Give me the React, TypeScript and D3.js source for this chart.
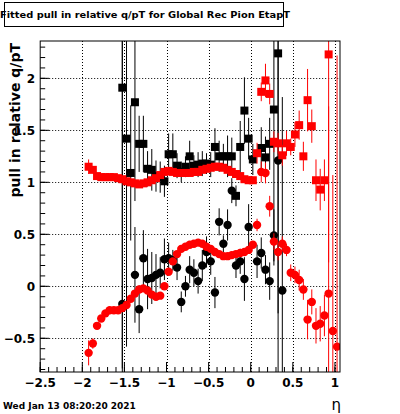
import React from 'react';
import * as d3 from 'd3';

const etaBins = [-1.925,-1.875,-1.825,-1.775,-1.725,-1.675,-1.625,-1.575,-1.525,-1.475,
  -1.425,-1.375,-1.325,-1.275,-1.225,-1.175,-1.125,-1.075,-1.025,-0.975,
  -0.925,-0.875,-0.825,-0.775,-0.725,-0.675,-0.625,-0.575,-0.525,-0.475,
  -0.425,-0.375,-0.325,-0.275,-0.225,-0.175,-0.125,-0.075,-0.025,0.025,
  0.075,0.125,0.175,0.225,0.275,0.325,0.375,0.425,0.475,0.525,
  0.575,0.625,0.675,0.725,0.775,0.825,0.875,0.925,0.975,1.025];

const redSquareVals = [1.15,1.12,1.06,1.05,1.05,1.05,1.05,1.04,1.03,1.01,
  1.00,0.99,0.98,0.99,1.00,1.02,1.04,1.07,1.10,1.11,
  1.10,1.09,1.09,1.09,1.09,1.10,1.10,1.12,1.13,1.14,
  1.15,1.15,1.14,1.12,1.10,1.08,1.06,1.03,1.02,1.02,
  1.28,1.87,1.98,1.85,1.39,1.375,1.26,1.375,1.34,1.46,
  1.55,1.25,1.79,1.54,1.02,0.93,1.02,2.23,null,null];
const redSquareErrs = [0.07,0.03,0.02,0.015,0.015,0.015,0.015,0.015,0.015,0.015,
  0.015,0.015,0.015,0.015,0.015,0.015,0.015,0.015,0.015,0.015,
  0.015,0.015,0.015,0.015,0.015,0.015,0.015,0.015,0.015,0.015,
  0.015,0.015,0.015,0.015,0.015,0.015,0.015,0.015,0.02,0.02,
  0.1,0.09,0.16,0.1,0.1,0.1,0.1,0.12,0.08,0.12,
  0.14,0.14,0.3,0.16,0.2,0.2,0.2,2.0,0,0];

const redCircleVals = [-0.64,-0.55,-0.38,-0.31,-0.26,-0.23,-0.23,-0.23,-0.21,-0.18,
  -0.12,-0.07,-0.03,-0.02,-0.04,-0.08,-0.10,-0.09,0.00,0.14,
  0.24,0.31,0.36,0.38,0.40,0.41,0.42,0.41,0.38,0.36,
  0.33,0.31,0.29,0.29,0.30,0.31,0.32,0.33,0.35,0.40,
  0.59,1.10,1.09,0.77,0.43,0.33,0.41,0.35,0.13,0.11,
  0.06,-0.03,-0.32,-0.15,-0.38,-0.36,-0.28,-0.07,-0.43,-0.58];
const redCircleErrs = [0.12,0.05,0.02,0.02,0.02,0.02,0.02,0.02,0.02,0.02,
  0.02,0.02,0.02,0.02,0.02,0.02,0.02,0.02,0.02,0.02,
  0.02,0.02,0.02,0.02,0.02,0.02,0.02,0.02,0.02,0.02,
  0.02,0.02,0.02,0.02,0.02,0.02,0.02,0.02,0.02,0.03,
  0.06,0.1,0.1,0.1,0.08,0.08,0.07,0.06,0.08,0.08,
  0.1,0.1,0.19,0.12,0.17,0.17,0.2,1.8,1.5,2.8];

const blackSquareVals = [null,null,null,null,null,null,null,null,1.91,1.42,
  1.09,1.77,1.37,1.37,1.13,1.12,1.06,1.05,1.01,1.27,
  1.27,1.16,1.10,1.15,1.25,1.16,1.17,1.18,1.18,1.17,
  1.34,1.25,1.25,1.25,1.25,0.87,1.34,1.69,1.42,1.22,
  null,1.33,1.24,1.37,1.70,2.24,null,null,null,null,
  null,null,null,null,null,null,null,null,null,null];
const blackSquareErrs = [0,0,0,0,0,0,0,0,2.7,2.0,
  0.65,0.95,0.27,0.27,0.17,0.2,0.15,0.15,0.15,0.2,
  0.2,0.12,0.1,0.1,0.15,0.1,0.12,0.12,0.1,0.12,
  0.18,0.15,0.12,0.2,0.18,0.1,0.25,0.32,0.2,0.15,
  0,0.2,0.2,0.25,1.5,2.5,0,0,0,0,
  0,0,0,0,0,0,0,0,0,0];

const blackCircleVals = [null,null,null,null,null,null,null,null,-0.17,null,
  null,0.11,-0.22,0.27,0.07,0.08,0.11,0.13,0.26,0.27,
  0.25,0.18,-0.15,0.00,0.16,0.13,0.05,0.20,0.33,0.24,
  -0.06,0.62,0.41,0.59,0.92,0.20,0.24,0.07,0.57,null,
  0.24,0.32,0.16,0.05,0.49,1.21,-0.04,null,null,null,
  null,null,null,null,null,null,null,null,null,null];
const blackCircleErrs = [0,0,0,0,0,0,0,0,2.7,0,
  0,0.46,0.23,0.27,0.29,0.25,0.2,0.15,0.2,0.15,
  0.1,0.12,0.1,0.1,0.13,0.13,0.12,0.15,0.15,0.13,
  0.15,0.13,0.08,0.15,0.12,0.12,0.12,0.21,0.22,0,
  0.16,0.15,0.14,0.18,0.25,2.5,1.86,0,0,0,
  0,0,0,0,0,0,0,0,0,0];

const xTickLabels = [-2.5, -2, -1.5, -1, -0.5, 0, 0.5, 1];
const yTickLabels = [-0.5, 0, 0.5, 1, 1.5, 2];

const titleText = 'Fitted pull in relative q/pT for Global Rec Pion EtapT';
const yTitle = 'pull in relative q/pT';
const xTitle = 'η';
const dateText = 'Wed Jan 13 08:20:20 2021';

const FONT = "'DejaVu Sans', sans-serif";
const L = 40.2, R = 340, T = 41, B = 372;

const x = d3.scaleLinear().domain([-2.5, 1.06]).range([L, R]);
const y = d3.scaleLinear().domain([-0.824, 2.359]).range([B, T]);

const fmt = (v: number) => (v < 0 ? '\u2212' + String(Math.abs(v)) : String(v));

type Series = { vals: (number | null)[]; errs: number[]; color: string; shape: 'sq' | 'ci' };

const series: Series[] = [
  { vals: blackSquareVals, errs: blackSquareErrs, color: '#000', shape: 'sq' },
  { vals: blackCircleVals, errs: blackCircleErrs, color: '#000', shape: 'ci' },
  { vals: redSquareVals, errs: redSquareErrs, color: '#ff0000', shape: 'sq' },
  { vals: redCircleVals, errs: redCircleErrs, color: '#ff0000', shape: 'ci' },
];

export default function App() {
  const minorX = d3.range(-2.5, 1.06, 0.1);
  const minorY = d3.range(-0.8, 2.36, 0.1);
  return (
    <svg width={400} height={414} style={{ position: 'absolute', left: 0, top: 0, background: '#fff' }}
      fontFamily={FONT}>
      <rect x={0} y={0} width={400} height={414} fill="#fff" />
      <defs>
        <clipPath id="frameClip"><rect x={L} y={T} width={R - L} height={B - T} /></clipPath>
      </defs>
      {/* grid */}
      <g stroke="#000" strokeWidth={1} strokeDasharray="1,2">
        {xTickLabels.filter(v => v > -2.5).map(v => (
          <line key={'gx' + v} x1={Math.round(x(v)) + 0.5} x2={Math.round(x(v)) + 0.5} y1={T} y2={B} />
        ))}
        {yTickLabels.map(v => (
          <line key={'gy' + v} x1={L} x2={R} y1={Math.round(y(v)) + 0.5} y2={Math.round(y(v)) + 0.5} />
        ))}
      </g>
      {/* data */}
      <g clipPath="url(#frameClip)">
        {series.map((s, si) => (
          <g key={si} fill={s.color} stroke={s.color}>
            {s.vals.map((v, i) => {
              if (v === null) return null;
              const cx = x(etaBins[i]);
              const cy = y(v);
              const e = s.errs[i];
              return (
                <g key={i}>
                  {e > 0 && <line x1={cx} x2={cx} y1={y(v + e)} y2={y(v - e)} strokeWidth={1} />}
                  {s.shape === 'sq'
                    ? <rect x={cx - 4} y={cy - 4} width={8} height={8} stroke="none" />
                    : <circle cx={cx} cy={cy} r={4.2} stroke="none" />}
                </g>
              );
            })}
          </g>
        ))}
      </g>
      {/* frame */}
      <rect x={L} y={T} width={R - L} height={B - T} fill="none" stroke="#000" strokeWidth={1} />
      {/* x ticks */}
      <g stroke="#000" strokeWidth={1}>
        {minorX.map((v, i) => (
          <line key={'mx' + i} x1={x(v)} x2={x(v)} y1={B} y2={B - 5} />
        ))}
        {xTickLabels.map(v => (
          <line key={'tx' + v} x1={x(v)} x2={x(v)} y1={B} y2={B - 10} />
        ))}
        {minorY.map((v, i) => (
          <line key={'my' + i} x1={L} x2={L + 5} y1={y(v)} y2={y(v)} />
        ))}
        {yTickLabels.map(v => (
          <line key={'ty' + v} x1={L} x2={L + 9} y1={y(v)} y2={y(v)} />
        ))}
      </g>
      {/* tick labels */}
      <g fontSize={12} fontWeight="bold" fill="#000">
        {xTickLabels.map(v => (
          <text key={'lx' + v} x={x(v)} y={387} textAnchor="middle">{fmt(v)}</text>
        ))}
        {yTickLabels.map(v => (
          <text key={'ly' + v} x={35} y={y(v) + 4.5} textAnchor="end">{fmt(v)}</text>
        ))}
      </g>
      {/* titles */}
      <rect x={4.5} y={2.5} width={279} height={24} fill="#fff" stroke="#000" strokeWidth={1} />
      <text x={145} y={17.5} textAnchor="middle" fontSize={8.6} fontWeight="bold"
        textLength={290} lengthAdjust="spacingAndGlyphs">{titleText}</text>
      <text transform="translate(20,43) rotate(-90)" textAnchor="end" fontSize={14} fontWeight="bold">{yTitle}</text>
      <text x={341} y={410} textAnchor="end" fontSize={15}>{xTitle}</text>
      <text x={3} y={409} fontSize={9} fontWeight="bold">{dateText}</text>
    </svg>
  );
}
